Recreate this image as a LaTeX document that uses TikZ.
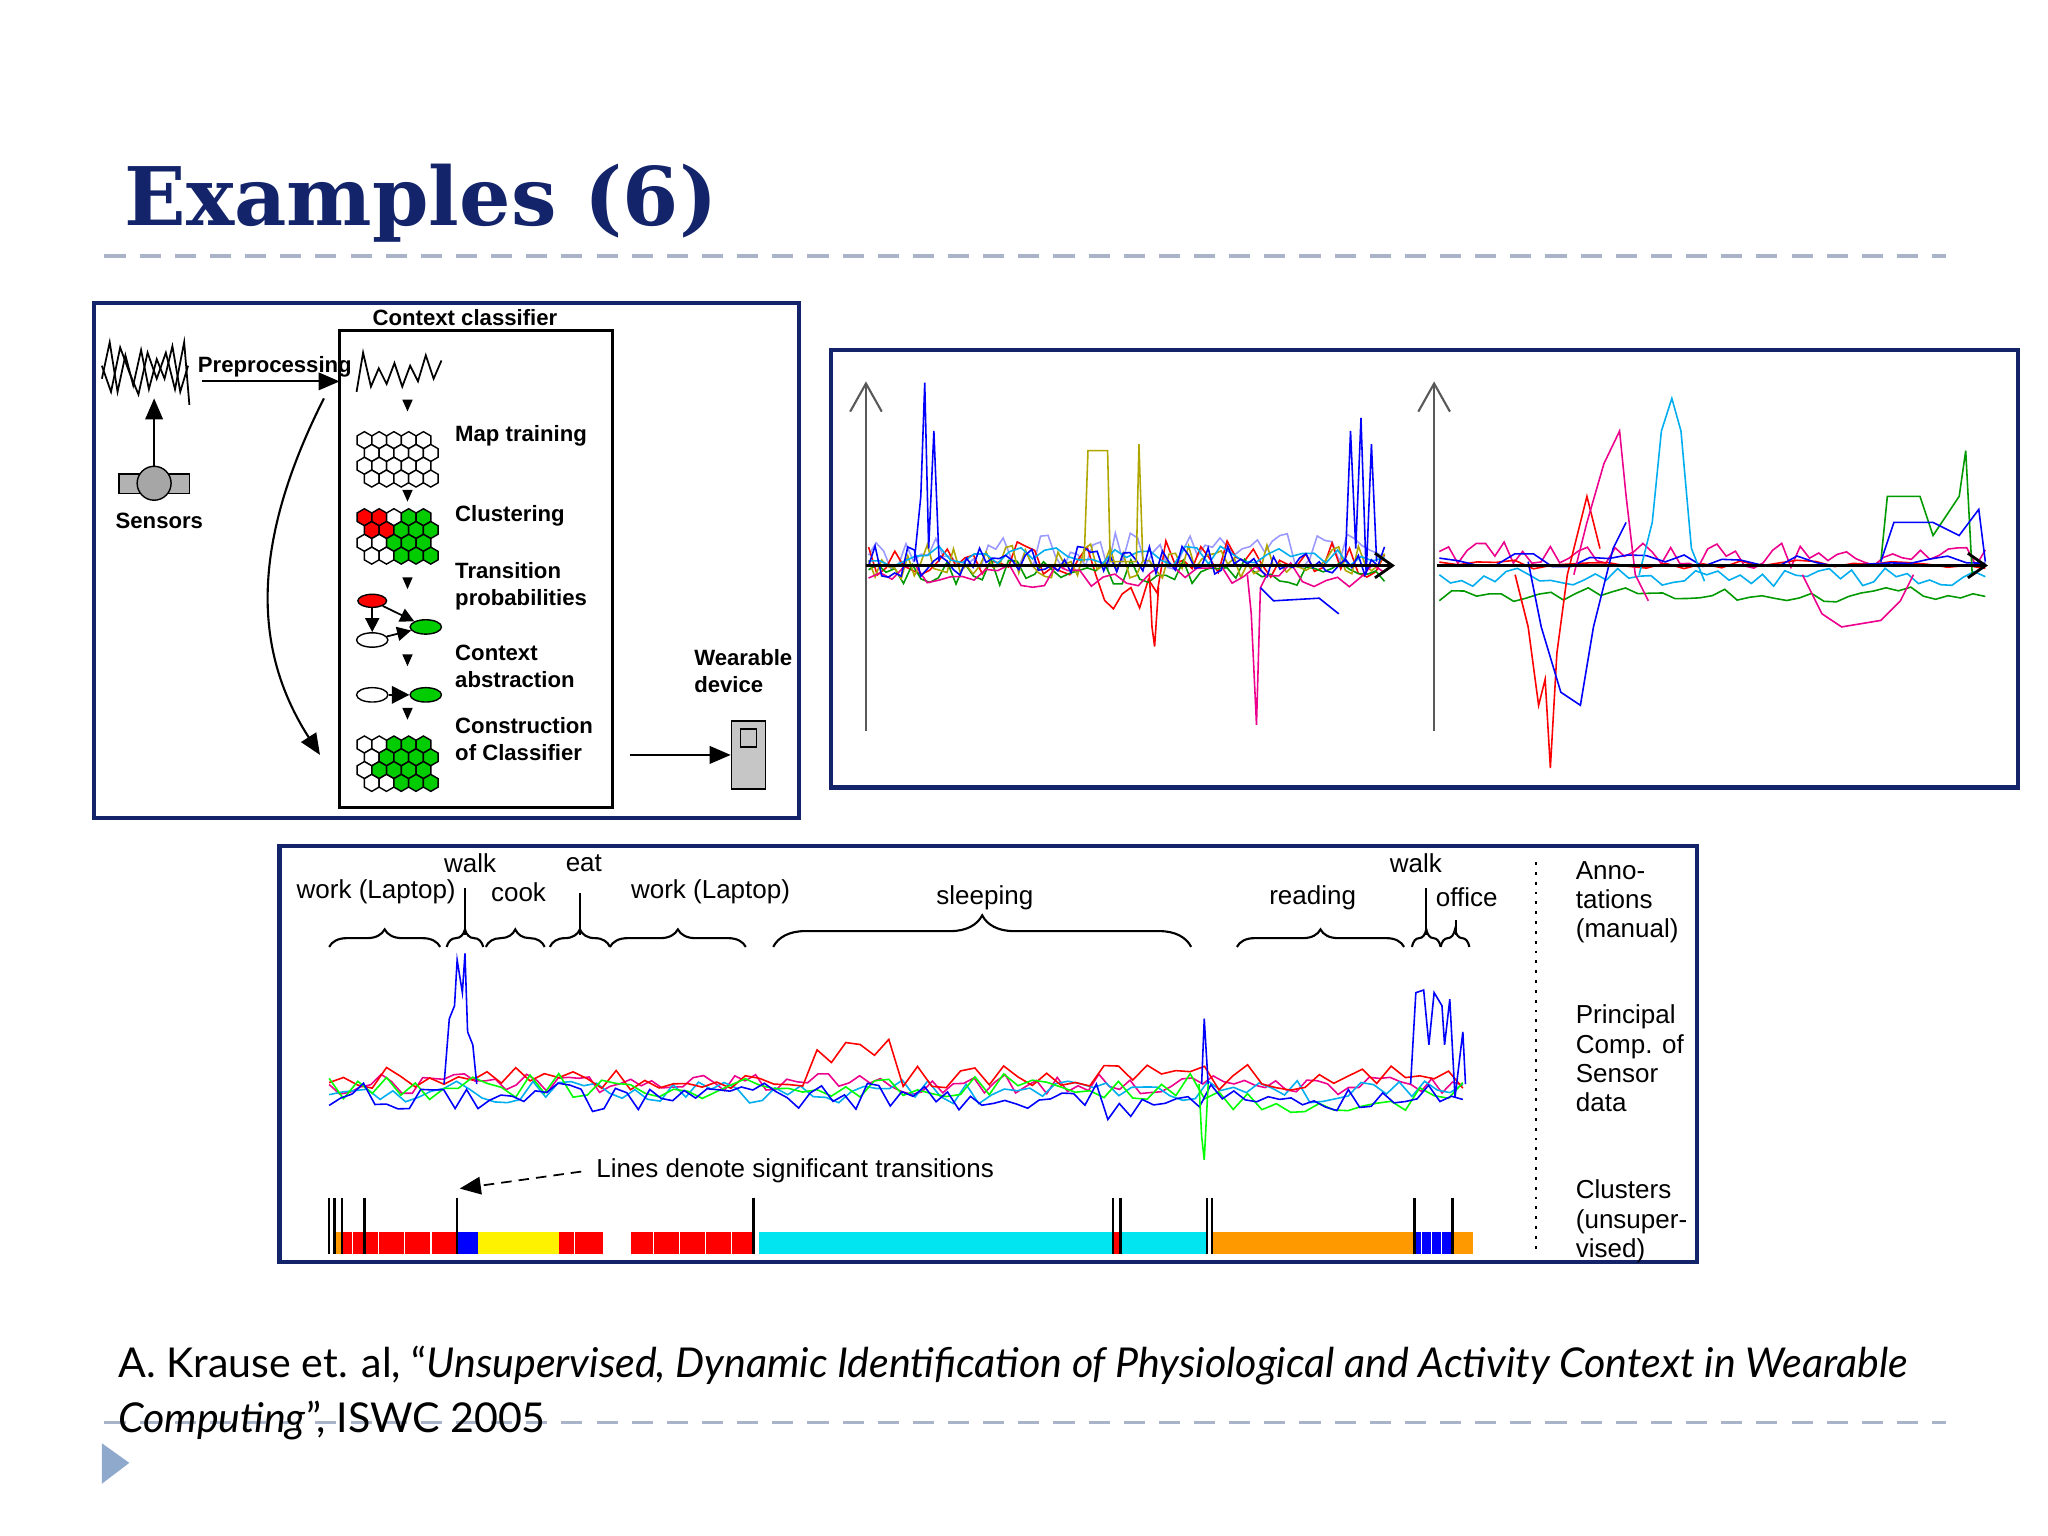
\documentclass[tikz,border=0pt]{standalone}
\usepackage{fontspec}
\setmainfont{Liberation Sans}
\newfontfamily\titlefont{DejaVu Serif}
\newfontfamily\citefont{Lato}
\usetikzlibrary{arrows.meta,decorations.pathreplacing,calc,shapes.geometric}
\definecolor{navy}{HTML}{13246B}
\definecolor{dashgray}{HTML}{A9B4C8}
\definecolor{tri}{HTML}{8FA9CC}
\definecolor{dorange}{HTML}{FF9900}
\definecolor{ccyan}{HTML}{00E5F0}
\definecolor{pgreen}{HTML}{00CC00}
\tikzset{
 frame/.style={draw=navy,line width=1.2pt},
 lbl/.style={font=\fontsize{6.3}{7.6}\selectfont\bfseries,align=left,anchor=west,inner sep=0pt},
 blbl/.style={font=\fontsize{7.4}{8.3}\selectfont,inner sep=0pt},
 hexs/.style={draw=black,line width=0.4pt},
 sig/.style={line width=0.45pt},
 brc/.style={decorate,decoration={brace,amplitude=5pt},line width=0.6pt},
}
\newcommand\hexat[3]{\draw[hexs,fill=#3] ($(#1,#2)+(90:6.5)$) -- ($(#1,#2)+(150:6.5)$) -- ($(#1,#2)+(210:6.5)$) -- ($(#1,#2)+(270:6.5)$) -- ($(#1,#2)+(330:6.5)$) -- ($(#1,#2)+(30:6.5)$) -- cycle;}
\newcommand\dtriangle[2]{\fill (#1-4,#2-5) -- (#1+4,#2-5) -- (#1,#2+4) -- cycle;}
\begin{document}
\begin{tikzpicture}[x=0.013061cm,y=-0.013061cm]
\useasboundingbox (0,0) rectangle (1568,1176);
\pgfmathsetseed{7}
% title
\node[anchor=base west,inner sep=0pt,text=navy,font=\titlefont\fontsize{23}{28}\selectfont\bfseries] (title) at (95,173) {Examples (6)};
\draw[dashgray,line width=1pt,dash pattern=on 6pt off 4pt] (80,196) -- (1490,196);
% ---------- box 1
\draw[frame] (72,232) rectangle (612,626);
\draw[line width=0.8pt] (260,253) rectangle (469,618);
\node[lbl,anchor=center] (cc) at (356,243) {Context classifier};
\draw[line width=0.5pt] (78,290) -- (84,262) -- (90,300) -- (96,272) -- (102,295) -- (108,268) -- (114,298) -- (120,275) -- (126,290) -- (132,265) -- (138,300) -- (144,280);
\draw[line width=0.5pt] (78,280) -- (85,300) -- (92,266) -- (99,285) -- (106,302) -- (113,270) -- (120,290) -- (127,270) -- (134,298) -- (141,262) -- (145,310);
\node[lbl] (pre) at (151,281) {Preprocessing};
\coordinate (preA) at (155,292); \coordinate (preB) at (260,292);
\draw[-{Triangle[length=6pt,width=5pt]},line width=0.6pt] (preA) -- (preB);
\draw[fill=gray!60] (91,363) rectangle (145,378);
\node[circle,draw,fill=gray!70,minimum size=26*0.013061cm,inner sep=0pt] (sens) at (118,370) {};
\coordinate (sigb) at (118,305);
\draw[-{Triangle[length=6pt,width=5pt]},line width=0.6pt] (sens.north) -- (sigb);
\node[lbl,anchor=center] (sensl) at (122,399) {Sensors};
\coordinate (ca) at (248,305); \coordinate (cb) at (245,578);
\draw[-{Triangle[length=6pt,width=5pt]},line width=0.6pt] (ca) .. controls (190,420) and (195,500) .. (cb);
\draw[line width=0.5pt] (273,300) -- (278,270) -- (284,296) -- (290,282) -- (296,294) -- (302,278) -- (308,296) -- (314,280) -- (320,292) -- (326,272) -- (332,290) -- (338,276);
\foreach \y in {311,380,447,506,547} {\dtriangle{312}{\y}}
\foreach \r in {0,...,3}{\foreach \c in {0,...,4}{
 \pgfmathsetmacro\xx{279+\c*11.3+mod(\r,2)*5.6}\pgfmathsetmacro\yy{337+\r*9.8}\hexat{\xx}{\yy}{white}}}
\foreach \r in {0,...,3}{\foreach \c in {0,...,4}{
 \pgfmathsetmacro\xx{279+\c*11.3+mod(\r,2)*5.6}\pgfmathsetmacro\yy{396+\r*9.8}
 \pgfmathparse{(\c<2 && \r<2) ? 1 : ((\c>2 || (\c==2 && \r>0)) ? 2 : 0)}
 \ifnum\pgfmathresult=1 \hexat{\xx}{\yy}{red}\else\ifnum\pgfmathresult=2 \hexat{\xx}{\yy}{pgreen}\else\hexat{\xx}{\yy}{white}\fi\fi}}
\foreach \r in {0,...,3}{\foreach \c in {0,...,4}{
 \pgfmathsetmacro\xx{279+\c*11.3+mod(\r,2)*5.6}\pgfmathsetmacro\yy{570+\r*9.8}
 \pgfmathparse{(\c>1 || (\c==1 && \r>0 && \r<3)) ? 2 : 0}
 \ifnum\pgfmathresult=2 \hexat{\xx}{\yy}{pgreen}\else\hexat{\xx}{\yy}{white}\fi}}
\node[lbl] (l1) at (348,334) {Map training};
\node[lbl] (l2) at (348,395) {Clustering};
\node[lbl] (l3) at (348,449) {Transition\\probabilities};
\node[lbl] (l4) at (348,510) {Context\\abstraction};
\node[lbl] (l5) at (348,566) {Construction\\of Classifier};
\node[ellipse,draw,fill=red,minimum width=22*0.013061cm,minimum height=10*0.013061cm,inner sep=0pt] (e1) at (285,460) {};
\node[ellipse,draw,fill=white,minimum width=24*0.013061cm,minimum height=11*0.013061cm,inner sep=0pt] (e2) at (285,490) {};
\node[ellipse,draw,fill=pgreen,minimum width=24*0.013061cm,minimum height=11*0.013061cm,inner sep=0pt] (e3) at (326,480) {};
\draw[-{Triangle[length=4pt,width=4pt]},line width=0.5pt] (e1) -- (e2);
\draw[-{Triangle[length=4pt,width=4pt]},line width=0.5pt] (e1) -- (e3);
\draw[-{Triangle[length=4pt,width=4pt]},line width=0.5pt] (e2) -- (e3);
\node[ellipse,draw,fill=white,minimum width=24*0.013061cm,minimum height=11*0.013061cm,inner sep=0pt] (e4) at (285,532) {};
\node[ellipse,draw,fill=pgreen,minimum width=24*0.013061cm,minimum height=11*0.013061cm,inner sep=0pt] (e5) at (326,532) {};
\draw[-{Triangle[length=5pt,width=5pt]},line width=0.5pt] (e4) -- (e5);
\node[lbl] (wd) at (531,514) {Wearable\\device};
\node[draw,fill=gray!45,minimum width=26*0.013061cm,minimum height=52*0.013061cm,inner sep=0pt] (dev) at (573,578) {};
\draw (567,558) rectangle (579,572);
\coordinate (da) at (482,578);
\draw[-{Triangle[length=6pt,width=5pt]},line width=0.6pt] (da) -- (dev.west);
% ---------- box 2
\draw[frame] (636,268) rectangle (1545,603);
\foreach \ax in {663,1098}{\draw[gray!70!black,line width=0.6pt,-{Straight Barb[length=8pt,width=9pt]}] (\ax,560) -- (\ax,292);}
\draw[sig,blue!40] plot[domain=665:1060,samples=70] (\x,{422+14*rand});
\draw[sig,red] plot[domain=665:1060,samples=60] (\x,{428+14*rand+ (\x>840 && \x<890 ? 25 : 0)});
\draw[sig,green!60!black] plot[domain=665:1060,samples=60] (\x,{438+10*rand});
\draw[sig,olive!70!yellow] plot[domain=665:1060,samples=80] (\x,{430+14*rand});
\draw[sig,magenta] plot[domain=665:1060,samples=45] (\x,{440+10*rand});
\draw[sig,cyan] plot[domain=665:1060,samples=45] (\x,{426+8*rand});
\draw[sig,blue] plot[domain=665:1060,samples=80] (\x,{430+12*rand});
\draw[sig,blue] (700,430) -- (705,380) -- (708,293) -- (711,420) -- (715,330) -- (719,430);
\draw[sig,olive!70!yellow] (830,430) -- (833,345) -- (848,345) -- (850,430) -- (870,430) -- (872,340) -- (875,430);
\draw[sig,magenta] (955,440) -- (958,470) -- (962,555) -- (965,450) -- (970,440);
\draw[sig,blue] (965,450) -- (975,460) -- (1010,458) -- (1025,470);
\draw[sig,blue] (1030,430) -- (1034,330) -- (1038,420) -- (1042,320) -- (1046,440) -- (1050,340) -- (1054,430);
\draw[sig,red] (880,440) -- (882,480) -- (884,495) -- (887,450);
\draw[line width=0.8pt,-{Straight Barb[length=5pt,width=7pt]}] (663,433) -- (1068,433);
\draw[sig,magenta] plot[domain=1102:1520,samples=60] (\x,{425+10*rand});
\draw[sig,cyan] plot[domain=1102:1520,samples=50] (\x,{442+7*rand});
\draw[sig,green!60!black] plot[domain=1102:1520,samples=45] (\x,{455+6*rand});
\draw[sig,red] plot[domain=1102:1520,samples=30] (\x,{432+4*rand});
\draw[sig,blue] plot[domain=1102:1520,samples=30] (\x,{430+6*rand});
\draw[sig,red] (1160,440) -- (1170,480) -- (1178,540) -- (1183,520) -- (1187,588) -- (1192,500) -- (1200,440) -- (1215,380) -- (1225,420);
\draw[sig,blue] (1170,430) -- (1180,480) -- (1195,530) -- (1210,540) -- (1220,480) -- (1235,420) -- (1245,400);
\draw[sig,cyan] (1255,440) -- (1265,400) -- (1272,330) -- (1280,305) -- (1287,330) -- (1295,420) -- (1305,445);
\draw[sig,magenta] (1205,440) -- (1215,400) -- (1228,355) -- (1240,330) -- (1245,380) -- (1252,440) -- (1262,460);
\draw[sig,magenta] (1380,440) -- (1395,470) -- (1410,480) -- (1440,475) -- (1455,460) -- (1465,440);
\draw[sig,green!60!black] (1440,430) -- (1445,380) -- (1470,380) -- (1480,410) -- (1500,380) -- (1505,345) -- (1510,440);
\draw[sig,blue] (1440,430) -- (1450,400) -- (1480,400) -- (1500,410) -- (1515,390) -- (1520,430);
\draw[line width=0.8pt,-{Straight Barb[length=5pt,width=7pt]}] (1100,433) -- (1522,433);
% ---------- box 3
\draw[frame] (214,648) rectangle (1299,966);
\draw[brc] (252,725) -- (337,725);
\draw[brc] (342,725) -- (370,725);
\draw[brc] (372,725) -- (417,725);
\draw[brc] (421,725) -- (467,725);
\draw[brc] (467,725) -- (571,725);
\draw[brc,decoration={amplitude=9pt}] (592,725) -- (912,725);
\draw[brc] (947,725) -- (1075,725);
\draw[brc] (1081,725) -- (1103,725);
\draw[brc] (1103,725) -- (1125,725);
\draw[line width=0.6pt] (356,716) -- (356,680);
\draw[line width=0.6pt] (444,716) -- (444,684);
\draw[line width=0.6pt] (1092,716) -- (1092,680);
\draw[line width=0.6pt] (1115,716) -- (1115,704);
\node[blbl] (t1) at (360,661) {walk};
\node[blbl] (t2) at (447,661) {eat};
\node[blbl] (t3) at (288,683) {work (Laptop)};
\node[blbl] (t4) at (397,683) {cook};
\node[blbl] (t5) at (544,683) {work (Laptop)};
\node[blbl] (t6) at (754,687) {sleeping};
\node[blbl] (t7) at (1005,687) {reading};
\node[blbl] (t8) at (1084,661) {walk};
\node[blbl] (t9) at (1123,687) {office};
\draw[dotted,line width=0.8pt] (1176,660) -- (1176,960);
\node[blbl,align=left,anchor=north west] (r1) at (1206,659) {Anno-\\tations\\(manual)};
\node[blbl,align=left,anchor=north west] (r2) at (1206,769) {Principal\\Comp. of\\Sensor\\data};
\node[blbl,align=left,anchor=north west] (r3) at (1206,903) {Clusters\\(unsuper-\\vised)};
\draw[sig,magenta] plot[domain=252:1120,samples=110] (\x,{830+8*rand});
\draw[sig,cyan] plot[domain=252:1120,samples=90] (\x,{836+9*rand});
\draw[sig,red] plot[domain=252:1120,samples=80] (\x,{825+10*rand + (\x>620 && \x<690 ? -20 : 0)});
\draw[sig,green] plot[domain=252:1120,samples=80] (\x,{832+10*rand + (\x>940 && \x<1080 ? 10 : 0)});
\draw[sig,blue] plot[domain=252:1120,samples=100] (\x,{840+11*rand + (\x>840 && \x<920 ? 10 : 0)});
\draw[sig,blue] (340,830) -- (344,780) -- (348,770) -- (350,735) -- (354,760) -- (356,730) -- (358,790) -- (362,800) -- (365,830);
\draw[sig,blue] (1080,830) -- (1084,760) -- (1090,758) -- (1094,800) -- (1098,760) -- (1104,770) -- (1106,800) -- (1110,765) -- (1114,840) -- (1120,790) -- (1122,830);
\draw[sig,green] (918,830) -- (920,870) -- (922,888) -- (925,830);
\draw[sig,blue] (920,830) -- (922,780) -- (925,830);
\node[blbl,anchor=west] (ldt) at (456,896) {Lines denote significant transitions};
\coordinate (lta) at (445,897); \coordinate (ltb) at (352,910);
\draw[densely dashed,line width=0.5pt,-{Triangle[length=6pt,width=5pt]}] (lta) -- (ltb);
\foreach \a/\b/\c in {255/262/dorange,262/350/red,350/366/blue,366/428/yellow,428/462/red,483/577/red,581/852/ccyan,852/858/red,858/924/ccyan,928/1083/dorange,1083/1112/blue,1112/1128/dorange}{\fill[\c] (\a,943) rectangle (\b,960);}
\foreach \x in {270,290,310,330,440,500,520,540,560,1088,1096,1104}{\draw[white,line width=0.3pt] (\x,943) -- (\x,960);}
\foreach \x in {252,256,262,279,350,577,852,858,924,928,1083,1112}{\draw[line width=0.7pt] (\x,917) -- (\x,960);}
% citation
\draw[dashgray,line width=1pt,dash pattern=on 6pt off 4pt] (80,1089) -- (1490,1089);
\node[anchor=base west,inner sep=0pt,font=\citefont\fontsize{11.7}{16}\selectfont] (cit1) at (90,1055) {A. Krause et. al, “\textit{Unsupervised, Dynamic Identification of Physiological and Activity Context in Wearable}};
\node[anchor=base west,inner sep=0pt,font=\citefont\fontsize{11.7}{16}\selectfont] (cit2) at (90,1097) {\textit{Computing}”, ISWC 2005};
\fill[tri] (78,1105) -- (78,1136) -- (99,1120) -- cycle;
\end{tikzpicture}
\end{document}
